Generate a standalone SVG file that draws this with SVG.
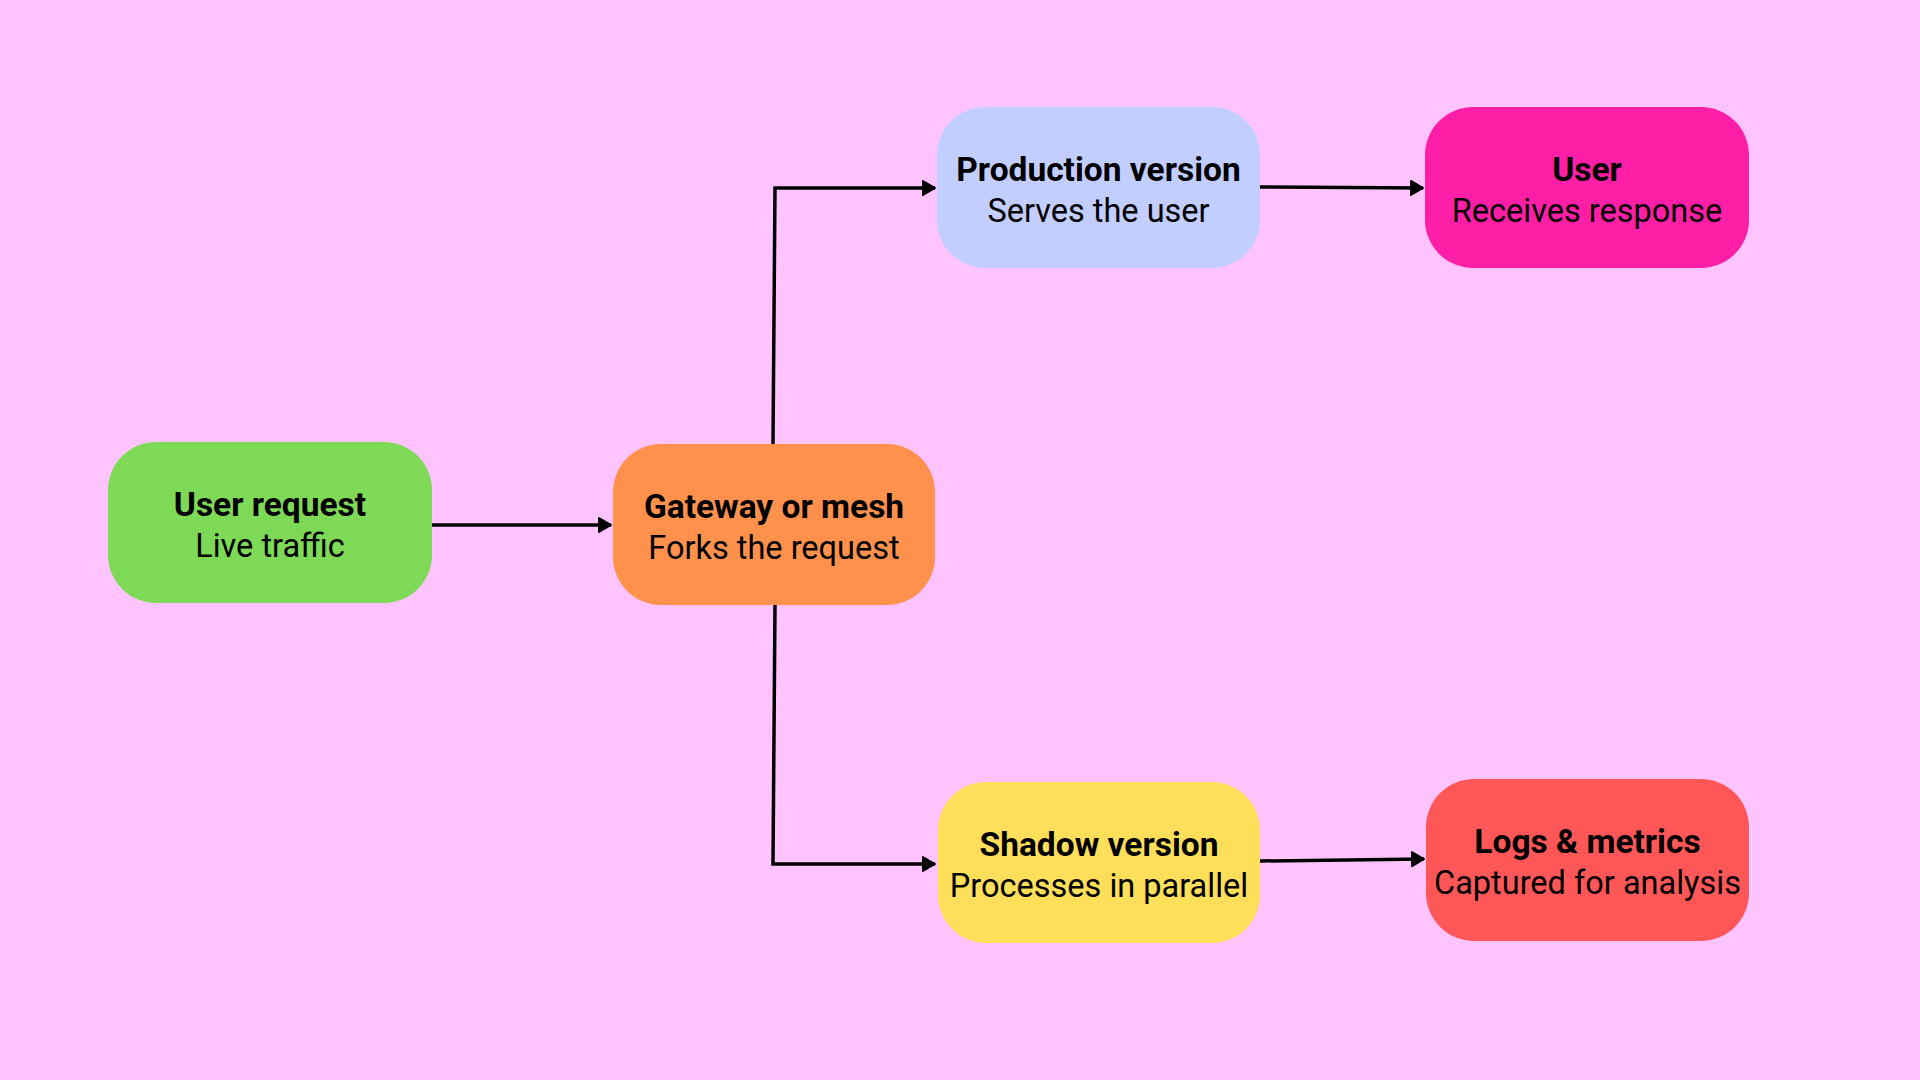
<svg xmlns="http://www.w3.org/2000/svg" width="1920" height="1080" viewBox="0 0 1920 1080">
<defs>
<style>
.box{stroke:none}
.t{font-family:Roboto,"Liberation Sans",sans-serif;font-weight:700;font-size:33.5px;fill:#000;text-anchor:middle}
.s{font-family:Roboto,"Liberation Sans",sans-serif;font-weight:400;font-size:32.5px;fill:#000;text-anchor:middle}
.c{fill:none;stroke:#000;stroke-width:3.5;stroke-linejoin:miter}
</style>
<marker id="ah" markerUnits="userSpaceOnUse" markerWidth="20" markerHeight="20" viewBox="0 0 20 20" refX="13" refY="10" orient="auto">
<path d="M1 3 L13 10 L1 17 Z" fill="#000" stroke="#000" stroke-width="2" stroke-linejoin="round"/>
</marker>
</defs>
<rect width="1920" height="1080" fill="#FFC4FF"/>
<g id="connectors">
<path class="c" d="M432 525 L611 525" marker-end="url(#ah)"/>
<path class="c" d="M773 444 L775 188 L935 188" marker-end="url(#ah)"/>
<path class="c" d="M1260 187 L1423 188" marker-end="url(#ah)"/>
<path class="c" d="M775 605 L773 864 L935 864" marker-end="url(#ah)"/>
<path class="c" d="M1260 861 L1424 859" marker-end="url(#ah)"/>
</g>
<g id="user-request">
<rect class="box" x="108" y="442" width="324" height="161" rx="48" fill="#7ED957"/>
<text class="t" x="270" y="516">User request</text>
<text class="s" x="270" y="557">Live traffic</text>
</g>
<g id="gateway">
<rect class="box" x="613" y="444" width="322" height="161" rx="48" fill="#FF914D"/>
<text class="t" x="774" y="518">Gateway or mesh</text>
<text class="s" x="774" y="559">Forks the request</text>
</g>
<g id="production">
<rect class="box" x="937" y="107" width="323" height="161" rx="48" fill="#C1CEFF"/>
<text class="t" x="1098.5" y="181">Production version</text>
<text class="s" x="1098.5" y="222">Serves the user</text>
</g>
<g id="user">
<rect class="box" x="1425" y="107" width="324" height="161" rx="48" fill="#FF1FA6"/>
<text class="t" x="1587" y="181">User</text>
<text class="s" x="1587" y="222">Receives response</text>
</g>
<g id="shadow">
<rect class="box" x="938" y="782" width="322" height="161" rx="48" fill="#FFDE59"/>
<text class="t" x="1099" y="856">Shadow version</text>
<text class="s" x="1099" y="897">Processes in parallel</text>
</g>
<g id="logs">
<rect class="box" x="1426" y="779" width="323" height="162" rx="48" fill="#FF5757"/>
<text class="t" x="1587.5" y="853">Logs &amp; metrics</text>
<text class="s" x="1587.5" y="894">Captured for analysis</text>
</g>
</svg>
